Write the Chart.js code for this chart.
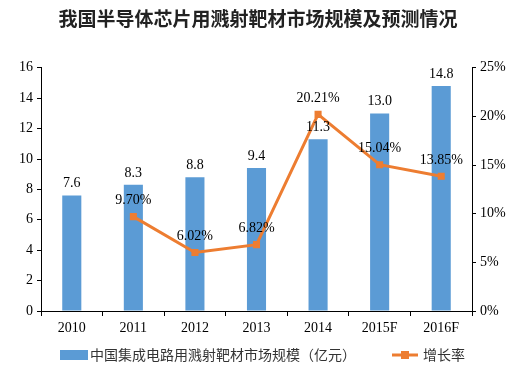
<!DOCTYPE html>
<html>
<head>
<meta charset="utf-8">
<script src="https://cdn.jsdelivr.net/npm/chart.js@4"></script>
<style>
    body { margin: 0; background: #fff; }
    #wrap { width: 516px; height: 373px; }
</style>
</head>
<body>
<div id="wrap"><canvas id="barChart" width="516" height="373"></canvas></div>
<script>
var years = ['2010', '2011', '2012', '2013', '2014', '2015F', '2016F'];
var marketSize = [7.6, 8.3, 8.8, 9.4, 11.3, 13.0, 14.8];
var growthRate = [null, 9.70, 6.02, 6.82, 20.21, 15.04, 13.85];
var leftTicks = [0, 2, 4, 6, 8, 10, 12, 14, 16];
var rightTicks = [0, 5, 10, 15, 20, 25];

var barLabel = '中国集成电路用溅射靶材市场规模（亿元）';
var lineLabel = '增长率';
var blue = '#5B9BD5';
var orange = '#ED7D31';
var serif = "'Liberation Serif', 'DejaVu Serif', serif";
var cjk = "'Noto Sans CJK SC', sans-serif";

// labels over bars and points
var valueLabels = {
    id: 'valueLabels',
    afterDatasetsDraw: function(chart) {
        var c = chart.ctx;
        c.save();
        c.font = '14px ' + serif;
        c.fillStyle = '#000';
        c.textAlign = 'center';
        c.textBaseline = 'bottom';
        chart.getDatasetMeta(0).data.forEach(function(bar, i) {
            c.fillText(marketSize[i].toFixed(1), bar.x, bar.y - 5);
        });
        chart.getDatasetMeta(1).data.forEach(function(pt, i) {
            if (growthRate[i] == null) return;
            c.fillText(growthRate[i].toFixed(2) + '%', pt.x, pt.y - 9);
        });
        c.restore();
    }
};

// legend at the bottom, drawn like the excel one
var bottomLegend = {
    id: 'bottomLegend',
    afterDraw: function(chart) {
        var c = chart.ctx;
        var y = 355;
        c.save();
        c.fillStyle = blue;
        c.fillRect(60, y - 5, 28, 10);
        c.font = '14px ' + cjk;
        c.fillStyle = '#333';
        c.textBaseline = 'middle';
        c.fillText(barLabel, 90, y);
        c.strokeStyle = orange;
        c.lineWidth = 3;
        c.beginPath();
        c.moveTo(392, y);
        c.lineTo(418, y);
        c.stroke();
        c.fillStyle = orange;
        c.fillRect(401, y - 4, 8, 8);
        c.fillStyle = '#333';
        c.fillText(lineLabel, 423, y);
        c.restore();
    }
};

var ctx = document.getElementById('barChart').getContext('2d');
var myChart = new Chart(ctx, {
    type: 'bar',
    data: {
        labels: years,
        datasets: [{
            type: 'bar',
            label: barLabel,
            data: marketSize,
            backgroundColor: blue,
            yAxisID: 'y',
            barPercentage: 0.31,
            categoryPercentage: 1,
            order: 1
        }, {
            type: 'line',
            label: lineLabel,
            data: growthRate,
            borderColor: orange,
            backgroundColor: orange,
            borderWidth: 3,
            pointStyle: 'rect',
            pointRadius: 5,
            pointBorderWidth: 0,
            yAxisID: 'y1',
            order: 0
        }]
    },
    options: {
        responsive: false,
        animation: false,
        layout: {
            padding: { left: 0, right: 0, top: 0, bottom: 32 }
        },
        scales: {
            x: {
                border: { color: '#000', width: 1 },
                grid: { drawOnChartArea: false, color: '#000', tickLength: 5 },
                ticks: { color: '#000', font: { family: serif, size: 14 }, padding: 4 },
                afterFit: function(s) { s.height = 30; }
            },
            y: {
                position: 'left',
                min: 0,
                max: 16,
                border: { color: '#000', width: 1 },
                grid: { drawOnChartArea: false, color: '#000', tickLength: 4 },
                afterBuildTicks: function(s) { s.ticks = leftTicks.map(function(v) { return { value: v }; }); },
                ticks: { color: '#000', font: { family: serif, size: 14 }, padding: 4 },
                afterFit: function(s) { s.width = 41; }
            },
            y1: {
                position: 'right',
                min: 0,
                max: 25,
                border: { color: '#000', width: 1 },
                grid: { drawOnChartArea: false, color: '#000', tickLength: 4 },
                afterBuildTicks: function(s) { s.ticks = rightTicks.map(function(v) { return { value: v }; }); },
                ticks: {
                    color: '#000',
                    font: { family: serif, size: 14 },
                    padding: 4,
                    callback: function(v) { return v + '%'; }
                },
                afterFit: function(s) { s.width = 44; }
            }
        },
        plugins: {
            title: {
                display: true,
                text: '我国半导体芯片用溅射靶材市场规模及预测情况',
                color: '#222',
                font: { family: cjk, size: 19, weight: 'bold' },
                padding: { top: 7, bottom: 38 }
            },
            legend: { display: false },
            tooltip: { enabled: false }
        }
    },
    plugins: [valueLabels, bottomLegend]
});
</script>
</body>
</html>
